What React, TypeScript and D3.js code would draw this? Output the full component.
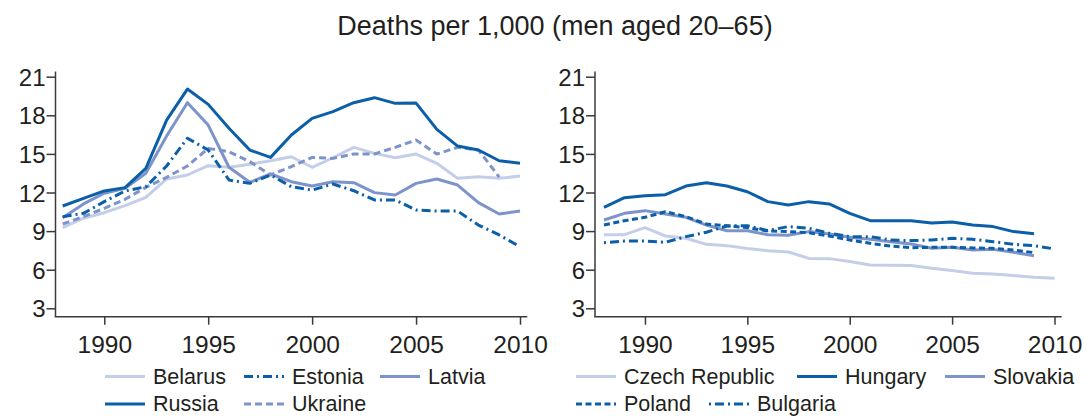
import React, { useRef, useEffect } from 'react';
import * as d3 from 'd3';

// ---------------- data ----------------
const title = 'Deaths per 1,000 (men aged 20–65)';
const years = [1988, 1989, 1990, 1991, 1992, 1993, 1994, 1995, 1996, 1997, 1998, 1999,
  2000, 2001, 2002, 2003, 2004, 2005, 2006, 2007, 2008, 2009, 2010];
const yTicks = [3, 6, 9, 12, 15, 18, 21];
const xTicks = [1990, 1995, 2000, 2005, 2010];

// left panel
const belarus = [9.27, 10.0, 10.43, 10.98, 11.62, 13.05, 13.36, 14.08, 13.96, 14.19, 14.47, 14.78,
  13.96, 14.7, 15.51, 15.04, 14.7, 14.99, 14.27, 13.1, 13.23, 13.1, 13.28];
const estonia = [10.12, 10.38, 11.29, 12.12, 12.45, 14.06, 16.22, 15.3, 12.97, 12.71, 13.36, 12.45,
  12.19, 12.66, 12.14, 11.42, 11.42, 10.64, 10.56, 10.56, 9.47, 8.7, 7.79];
const latvia = [10.04, 11.11, 11.94, 12.32, 13.49, 16.39, 18.98, 17.24, 13.96, 12.79, 13.44, 12.84,
  12.5, 12.84, 12.76, 11.99, 11.81, 12.71, 13.05, 12.58, 11.21, 10.33, 10.56];
const russia = [10.95, 11.55, 12.12, 12.38, 13.88, 17.63, 20.04, 18.85, 16.99, 15.3, 14.73, 16.47,
  17.76, 18.28, 18.98, 19.37, 18.93, 18.95, 16.91, 15.61, 15.3, 14.47, 14.27];
const ukraine = [9.55, 10.12, 10.77, 11.47, 12.4, 13.18, 14.06, 15.43, 15.17, 14.4, 13.36, 14.01,
  14.73, 14.65, 14.99, 14.99, 15.51, 16.08, 14.99, 15.51, 15.3, 13.2, null];

// right panel
const czech = [8.72, 8.72, 9.27, 8.62, 8.44, 7.97, 7.87, 7.64, 7.48, 7.38, 6.88, 6.86,
  6.63, 6.37, 6.34, 6.32, 6.11, 5.93, 5.72, 5.67, 5.54, 5.41, 5.33];
const hungary = [10.85, 11.6, 11.75, 11.83, 12.5, 12.76, 12.5, 12.06, 11.29, 11.03, 11.29, 11.11,
  10.38, 9.81, 9.81, 9.81, 9.63, 9.71, 9.47, 9.35, 8.96, 8.8, null];
const slovakia = [9.86, 10.38, 10.59, 10.33, 10.07, 9.47, 9.03, 9.03, 8.72, 8.67, 8.96, 8.78,
  8.52, 8.36, 8.18, 8.0, 7.66, 7.74, 7.53, 7.58, 7.35, 7.09, null];
const poland = [9.47, 9.81, 10.07, 10.51, 10.12, 9.55, 9.42, 9.27, 9.01, 8.96, 8.88, 8.62,
  8.31, 8.05, 7.84, 7.71, 7.74, 7.74, 7.69, 7.66, 7.53, 7.33, null];
const bulgaria = [8.1, 8.23, 8.23, 8.13, 8.57, 8.91, 9.4, 9.42, 9.04, 9.35, 9.22, 8.83,
  8.57, 8.57, 8.31, 8.26, 8.31, 8.44, 8.36, 8.18, 7.97, 7.87, 7.61];

// ---------------- styles ----------------
const DARK = '#0b5ea8';
const MID = '#7d94cb';
const LIGHT = '#c4cee8';
const TEXT = '#231f20';
const AXIS = '#3a3a3a';
const DASH = '7,4';
const DASHDOT = '9,4,2,4';

type Series = { name: string, values: (number | null)[], color: string, dash: string | null };

const panels = [
  {
    axisX: 55.5, x0: 62.7, x1: 520,
    series: [
      { name: 'Belarus', values: belarus, color: LIGHT, dash: null },
      { name: 'Ukraine', values: ukraine, color: MID, dash: DASH },
      { name: 'Latvia', values: latvia, color: MID, dash: null },
      { name: 'Estonia', values: estonia, color: DARK, dash: DASHDOT },
      { name: 'Russia', values: russia, color: DARK, dash: null },
    ] as Series[],
    // legend: [name, swatch x, row]
    legend: [['Belarus', 105, 0], ['Estonia', 244, 0], ['Latvia', 380, 0], ['Russia', 105, 1], ['Ukraine', 244, 1]],
  },
  {
    axisX: 595, x0: 604, x1: 1054.5,
    series: [
      { name: 'Czech Republic', values: czech, color: LIGHT, dash: null },
      { name: 'Slovakia', values: slovakia, color: MID, dash: null },
      { name: 'Poland', values: poland, color: DARK, dash: '6,3.5' },
      { name: 'Bulgaria', values: bulgaria, color: DARK, dash: '2,4,9,4' },
      { name: 'Hungary', values: hungary, color: DARK, dash: null },
    ] as Series[],
    legend: [['Czech Republic', 576, 0], ['Hungary', 797, 0], ['Slovakia', 945, 0], ['Poland', 576, 1], ['Bulgaria', 709, 1]],
  },
];

export default function App() {
  const ref = useRef<SVGSVGElement>(null);
  const width = 1087;
  const height = 417;

  useEffect(() => {
    const svg = d3.select(ref.current);
    svg.selectAll('*').remove();

    svg.append('text')
      .attr('x', 555).attr('y', 35)
      .attr('text-anchor', 'middle')
      .attr('fill', TEXT)
      .style('font-size', '27px')
      .text(title);

    const y = d3.scaleLinear().domain([3, 21]).range([308.3, 76.7]);
    const baseY = 316.7;

    panels.forEach(p => {
      const x = d3.scaleLinear().domain([1988, 2010]).range([p.x0, p.x1]);
      const g = svg.append('g');

      //---------- axes ----------//
      g.append('line')
        .attr('x1', p.axisX).attr('x2', p.axisX)
        .attr('y1', y(21.4)).attr('y2', baseY)
        .attr('stroke', AXIS).attr('stroke-width', 1.5);
      g.append('line')
        .attr('x1', p.axisX - 0.75).attr('x2', x(2010.35))
        .attr('y1', baseY).attr('y2', baseY)
        .attr('stroke', AXIS).attr('stroke-width', 1.5);

      const yAxis = g.append('g')
        .attr('transform', `translate(${p.axisX},0)`)
        .call(d3.axisLeft(y).tickValues(yTicks).tickSize(9).tickPadding(1).tickFormat(d3.format('d')));
      yAxis.select('.domain').remove();
      yAxis.attr('font-family', null).attr('font-size', null);
      yAxis.selectAll('line').attr('stroke', AXIS).attr('stroke-width', 1.5);
      yAxis.selectAll('text').attr('fill', TEXT).style('font-size', '24px').attr('dy', '0.36em');

      const xAxis = g.append('g')
        .attr('transform', `translate(0,${baseY})`)
        .call(d3.axisBottom(x).tickValues(xTicks).tickSize(8).tickFormat(d3.format('d')));
      xAxis.select('.domain').remove();
      xAxis.attr('font-family', null).attr('font-size', null);
      xAxis.selectAll('line').attr('stroke', AXIS).attr('stroke-width', 1.5);
      xAxis.selectAll('text').attr('fill', TEXT).style('font-size', '24.5px').attr('y', 36.6).attr('dy', 0);

      //---------- lines ----------//
      const line = d3.line<number | null>()
        .defined(d => d != null)
        .x((d, i) => x(years[i]))
        .y(d => y(d as number));

      g.append('g')
        .selectAll('path')
        .data(p.series)
        .join('path')
        .attr('d', d => line(d.values))
        .attr('fill', 'none')
        .attr('stroke', d => d.color)
        .attr('stroke-width', 3)
        .attr('stroke-dasharray', d => d.dash)
        .attr('stroke-linejoin', 'round');

      //---------- legend ----------//
      const lg = g.append('g')
        .selectAll('g')
        .data(p.legend)
        .join('g')
        .attr('transform', d => `translate(${d[1]},${376.5 + (d[2] as number) * 27.5})`);
      lg.append('line')
        .attr('x1', 0).attr('x2', 40).attr('y1', 0).attr('y2', 0)
        .attr('stroke', d => p.series.find(s => s.name === d[0])!.color)
        .attr('stroke-dasharray', d => p.series.find(s => s.name === d[0])!.dash)
        .attr('stroke-width', 3);
      lg.append('text')
        .attr('x', 48).attr('y', 7.2)
        .attr('fill', TEXT)
        .style('font-size', '21.5px')
        .text(d => d[0] as string);
    });
  }, []);

  return (
    <svg ref={ref} width={width} height={height}
      style={{ position: 'absolute', left: 0, top: 0, background: '#fff', fontFamily: '"Liberation Sans", Arial, sans-serif' }}>
    </svg>
  );
}
